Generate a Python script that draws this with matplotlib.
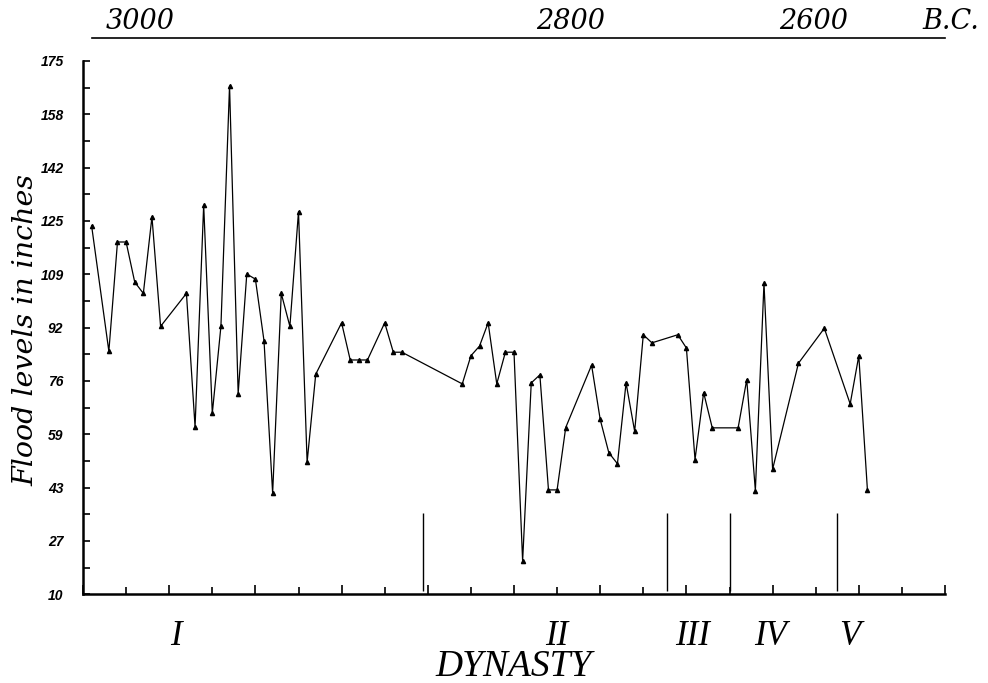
import matplotlib
matplotlib.use('Agg')
import matplotlib.pyplot as plt

# 나일강 범람 수위 (Palermo stone), x 위치는 눈금 단위
year_pos = [0.2, 0.6, 0.8, 1.0, 1.2, 1.4, 1.6, 1.8, 2.4, 2.6, 2.8, 3.0, 3.2, 3.4,
            3.6, 3.8, 4.0, 4.2, 4.4, 4.6, 4.8, 5.0, 5.2, 5.4, 6.0, 6.2, 6.4, 6.6,
            7.0, 7.2, 7.4, 8.8, 9.0, 9.2, 9.4, 9.6, 9.8, 10.0, 10.2, 10.4, 10.6,
            10.8, 11.0, 11.2, 11.8, 12.0, 12.2, 12.4, 12.6, 12.8, 13.0, 13.2, 13.8,
            14.0, 14.2, 14.4, 14.6, 15.2, 15.4, 15.6, 15.8, 16.0, 16.6, 17.2, 17.8,
            18.0, 18.2]
flood = [124.0, 85.2, 119.0, 119.0, 106.6, 103.1, 126.8, 92.9, 103.1, 61.8, 130.4,
         66.0, 92.9, 167.3, 72.1, 109.1, 107.5, 88.4, 41.3, 103.1, 92.9, 128.4, 50.9,
         78.1, 94.0, 82.5, 82.5, 82.5, 94.0, 84.9, 84.9, 75.1, 83.8, 86.8, 94.0, 75.1,
         84.9, 84.9, 20.3, 75.4, 77.9, 42.3, 42.3, 61.6, 80.9, 64.1, 53.8, 50.4, 75.4,
         60.4, 90.3, 87.8, 90.3, 86.2, 51.7, 72.4, 61.5, 61.5, 76.4, 42.1, 106.2, 48.7,
         81.5, 92.3, 68.9, 83.8, 42.3]

ytick_pos = [10 + 16.5 * i for i in range(11)]
ytick_labels = ['10', '27', '43', '59', '76', '92', '109', '125', '142', '158', '175']

dynasty_breaks = [7.9, 13.55, 15.0, 17.5]
dynasty_names = ['I', 'II', 'III', 'IV', 'V']
dynasty_pos = [2.15, 10.99, 14.15, 15.95, 17.8]

year_labels = ['3000', '2800', '2600', 'B.C.']
year_label_pos = [1.32, 11.32, 16.94, 20.14]

fig = plt.figure(figsize=(9.88, 6.83), dpi=100)
ax = fig.add_axes([83 / 988, 1 - 594.3 / 683, 862 / 988, 533.3 / 683])

ax.plot(year_pos, flood, '-', color='black', lw=0.9, marker='^', ms=3.0)
ax.vlines(dynasty_breaks, 11, 35, color='black', lw=1.0)

ax.set_xlim(0, 20)
ax.set_ylim(10, 175)
ax.spines['top'].set_visible(False)
ax.spines['right'].set_visible(False)
ax.spines['left'].set_linewidth(1.8)
ax.spines['bottom'].set_linewidth(1.8)

ax.set_yticks(ytick_pos)
ax.set_yticklabels(ytick_labels, fontfamily='Liberation Sans', fontweight='bold',
                   fontstyle='italic', fontsize=10)
ax.set_yticks([10 + 16.5 * i + 8.25 for i in range(10)], minor=True)
ax.set_xticks(range(0, 21, 2))
ax.set_xticklabels([])
ax.set_xticks(range(1, 20, 2), minor=True)
ax.tick_params(axis='y', which='both', direction='in', length=5, width=1.2, pad=14)
ax.tick_params(axis='x', which='major', direction='in', length=6.5, width=1.2)
ax.tick_params(axis='x', which='minor', direction='in', length=5, width=1.2)

# 왕조 이름
xt = ax.get_xaxis_transform()
for name, p in zip(dynasty_names, dynasty_pos):
    ax.text(p, -0.095, name, transform=xt, ha='center', va='baseline',
            fontsize=25, fontstyle='italic', fontfamily='Liberation Serif')
ax.text(10.0, -0.154, 'DYNASTY', transform=xt, ha='center', va='baseline',
        fontsize=27, fontstyle='italic', fontfamily='Liberation Serif')

# 위쪽 연대 축
ax.plot([0.2, 20.0], [1.043, 1.043], color='black', lw=1.2, transform=xt, clip_on=False)
for lab, p in zip(year_labels, year_label_pos):
    ax.text(p, 1.075, lab, transform=xt, ha='center', va='center',
            fontsize=19.5, fontstyle='italic', fontfamily='DejaVu Serif')

fig.text(26 / 988, 1 - 330 / 683, 'Flood levels in inches', rotation=90, ha='center',
         va='center', fontsize=20.5, fontstyle='italic', fontfamily='DejaVu Serif')

plt.savefig('out.png', dpi=100)
